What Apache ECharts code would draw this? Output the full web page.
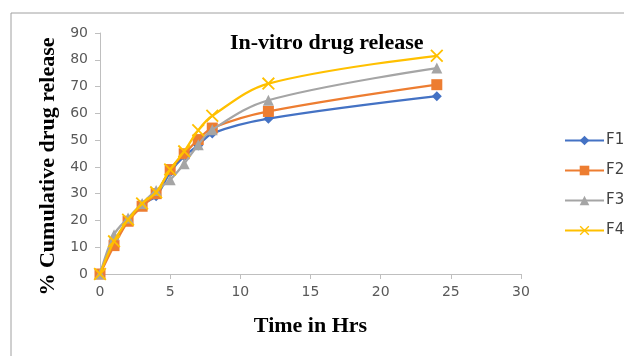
<!DOCTYPE html>
<html>
<head>
<meta charset="utf-8">
<script src="https://cdn.jsdelivr.net/npm/echarts@6/dist/echarts.min.js"></script>
<style>
  html, body { margin: 0; padding: 0; background: #fff; }
  #main { width: 624px; height: 356px; }
</style>
</head>
<body>
<div id="main"></div>
<script>
  // sampling times (hrs)
  const times = [0, 1, 2, 3, 4, 5, 6, 7, 8, 12, 24];

  const f1 = [0, 12, 20, 26, 29, 38, 44, 48, 52.5, 58, 66.4];
  const f2 = [0, 10.6, 19.7, 25.3, 30, 39, 44.9, 50.2, 54.5, 60.7, 70.7];
  const f3 = [0, 14.7, 20.9, 26.3, 31.2, 35.2, 41.2, 48.3, 53.9, 64.9, 76.9];
  const f4 = [0, 12.2, 20.3, 26.3, 30.5, 39, 45.8, 53.7, 59.1, 71.1, 81.5];

  const names = ['F1', 'F2', 'F3', 'F4'];
  const colors = ['#4472C4', '#ED7D31', '#A5A5A5', '#FFC000'];

  const xTicks = [0, 5, 10, 15, 20, 25, 30];
  const yTicks = [0, 10, 20, 30, 40, 50, 60, 70, 80, 90];

  const crossPath = 'path://M0,1L1,0L10,9L9,10Z M9,0L10,1L1,10L0,9Z';
  const symbols = ['diamond', 'rect', 'triangle', crossPath];
  const symbolSizes = [10, 11, 11, 13];

  function pairs(vals) {
    let out = [];
    for (let i = 0; i < times.length; i++) {
      out.push([times[i], vals[i]]);
    }
    return out;
  }

  const allData = [f1, f2, f3, f4];
  let series = [];
  for (let i = 0; i < allData.length; i++) {
    series.push({
      name: names[i],
      type: 'line',
      data: pairs(allData[i]),
      smooth: 0.35,
      symbol: symbols[i],
      symbolSize: symbolSizes[i],
      showAllSymbol: true,
      lineStyle: { width: 2.25, color: colors[i] },
      itemStyle: { color: colors[i] },
      emphasis: { disabled: true },
      z: 2 + i
    });
  }

  const chart = echarts.init(document.getElementById('main'), null, { renderer: 'canvas' });

  const serifBold = {
    fontFamily: 'Liberation Serif',
    fontWeight: 'bold',
    fontSize: 22,
    color: '#000'
  };

  const options = {
    backgroundColor: '#fff',
    animation: false,
    color: colors,
    title: {
      text: 'In-vitro drug release',
      left: 225,
      top: 27,
      textStyle: serifBold
    },
    graphic: [{
      type: 'rect',
      shape: { x: 11, y: 13, width: 700, height: 400 },
      style: { fill: 'none', stroke: '#a0a0a0', lineWidth: 1 },
      silent: true,
      z: -1
    }],
    legend: {
      orient: 'vertical',
      left: 559,
      top: 128,
      itemGap: 15,
      itemWidth: 39,
      itemHeight: 12,
      data: names,
      textStyle: {
        fontFamily: 'DejaVu Sans',
        fontSize: 15,
        color: '#404040',
        padding: [0, 0, 0, -3]
      }
    },
    grid: {
      left: 100,
      right: 103,
      top: 33,
      bottom: 82,
      containLabel: false
    },
    xAxis: {
      type: 'value',
      min: xTicks[0],
      max: xTicks[xTicks.length - 1],
      interval: 5,
      name: 'Time in Hrs',
      nameLocation: 'middle',
      nameGap: 41,
      nameTextStyle: serifBold,
      axisLine: { show: true, lineStyle: { color: '#bfbfbf', width: 1 } },
      axisTick: { show: true, length: 5, lineStyle: { color: '#bfbfbf' } },
      axisLabel: {
        margin: 11,
        fontFamily: 'DejaVu Sans',
        fontSize: 14,
        color: '#595959'
      },
      splitLine: { show: false }
    },
    yAxis: {
      type: 'value',
      min: yTicks[0],
      max: yTicks[yTicks.length - 1],
      interval: 10,
      name: '% Cumulative drug release',
      nameLocation: 'middle',
      nameGap: 40,
      nameTextStyle: Object.assign({}, serifBold, { padding: [0, 26, 0, 0] }),
      axisLine: { show: true, lineStyle: { color: '#bfbfbf', width: 1 } },
      axisTick: { show: true, length: 5, lineStyle: { color: '#bfbfbf' } },
      axisLabel: {
        margin: 12,
        fontFamily: 'DejaVu Sans',
        fontSize: 14,
        color: '#595959'
      },
      splitLine: { show: false }
    },
    series: series
  };

  chart.setOption(options);
</script>
</body>
</html>
